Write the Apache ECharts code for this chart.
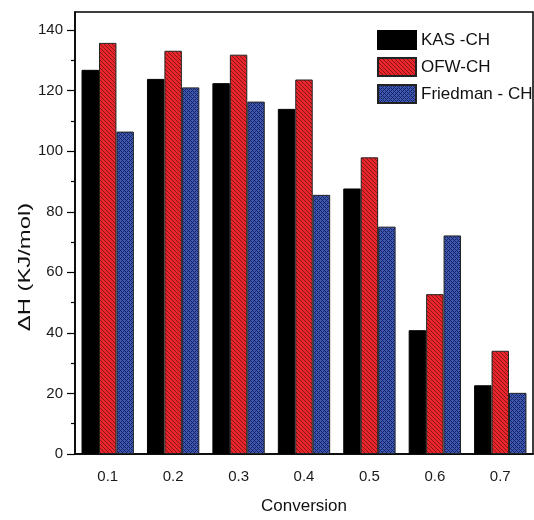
<!DOCTYPE html>
<html>
<head>
<meta charset="utf-8">
<script src="https://cdn.jsdelivr.net/npm/echarts@6/dist/echarts.min.js"></script>
<style>
html,body{margin:0;padding:0;background:#fff;}
#main{width:534px;height:520px;}
</style>
</head>
<body>
<div id="main"></div>
<script>
var categories = ['0.1', '0.2', '0.3', '0.4', '0.5', '0.6', '0.7'];
var seriesNames = ['KAS -CH', 'OFW-CH', 'Friedman - CH'];
var kasValues = [126.9, 123.9, 122.5, 114.0, 87.7, 40.9, 22.7];
var ofwValues = [135.8, 133.2, 131.9, 123.7, 98.0, 52.8, 34.1];
var friedmanValues = [106.5, 121.1, 116.4, 85.6, 75.1, 72.2, 20.2];
var yMajorTicks = [0, 20, 40, 60, 80, 100, 120, 140];
var yMinorTicks = [10, 30, 50, 70, 90, 110, 130];

function makeTile(base, dark, isDark) {
  var c = document.createElement('canvas');
  c.width = 4; c.height = 4;
  var ctx = c.getContext('2d');
  ctx.fillStyle = base; ctx.fillRect(0, 0, 4, 4);
  ctx.fillStyle = dark;
  for (var y = 0; y < 4; y++) for (var x = 0; x < 4; x++) if (isDark(x, y)) ctx.fillRect(x, y, 1, 1);
  return {image: c, repeat: 'repeat'};
}
var redPattern = makeTile('#e8262b', '#8a1418', function (x, y) { return ((x - y + 8) % 4) === 0; });
var bluePattern = makeTile('#3c57b4', '#1a255f', function (x, y) { return ((x + y) % 2 === 0) && !(x === 2 && y === 2) && !(x === 0 && y === 0); });

var chart = echarts.init(document.getElementById('main'), null, {renderer: 'canvas'});
var FONT = '"Liberation Sans", Arial, sans-serif';
var option = {
  backgroundColor: '#fff',
  animation: false,
  grid: {left: 75, right: 1, top: 12, bottom: 66, show: true, borderColor: '#000', borderWidth: 1.5, containLabel: false},
  legend: {
    orient: 'vertical', left: 372, top: 25,
    itemWidth: 38, itemHeight: 18, itemGap: 7,
    icon: 'rect',
    textStyle: {fontSize: 17, color: '#111', fontFamily: FONT},
    data: seriesNames
  },
  xAxis: [{
    type: 'category', data: categories, position: 'bottom',
    boundaryGap: true,
    axisLine: {lineStyle: {color: '#000', width: 1.5}},
    axisTick: {alignWithLabel: true, length: 8, lineStyle: {color: '#000', width: 1.2}},
    axisLabel: {fontSize: 15, color: '#1a1a1a', margin: 15, fontFamily: FONT},
    name: 'Conversion', nameLocation: 'middle', nameGap: 44,
    nameTextStyle: {fontSize: 17, color: '#111', fontFamily: FONT}
  }, {
    type: 'category', data: categories, position: 'bottom',
    boundaryGap: true,
    axisLine: {show: false},
    axisTick: {alignWithLabel: false, length: 4, lineStyle: {color: '#000', width: 1.2}},
    axisLabel: {show: false}
  }],
  yAxis: [{
    type: 'value', min: 0, max: 146, position: 'left',
    splitLine: {show: false},
    axisLine: {show: true, lineStyle: {color: '#000', width: 1.5}},
    axisTick: {show: true, length: 8, customValues: yMajorTicks, lineStyle: {color: '#000', width: 1.2}},
    axisLabel: {fontSize: 15, color: '#1a1a1a', margin: 12, customValues: yMajorTicks, fontFamily: FONT}
  }, {
    type: 'value', min: 0, max: 146, position: 'left',
    splitLine: {show: false},
    axisLine: {show: false},
    axisTick: {show: true, length: 4, customValues: yMinorTicks, lineStyle: {color: '#000', width: 1.2}},
    axisLabel: {show: false}
  }],
  graphic: [{
    type: 'text', x: 25, y: 267, rotation: Math.PI / 2, scaleX: 1.4, scaleY: 1.0,
    style: {text: 'ΔH (KJ/mol)', fontSize: 17, fill: '#111', fontFamily: FONT, align: 'center', verticalAlign: 'middle'}
  }],
  series: [{
    name: seriesNames[0], type: 'bar', data: kasValues,
    xAxisIndex: 0, yAxisIndex: 0,
    barGap: '0%', barCategoryGap: '20%',
    itemStyle: {color: '#000', borderColor: '#000', borderWidth: 1}
  }, {
    name: seriesNames[1], type: 'bar', data: ofwValues,
    xAxisIndex: 0, yAxisIndex: 0,
    barGap: '0%', barCategoryGap: '20%',
    itemStyle: {color: redPattern, borderColor: '#222', borderWidth: 1}
  }, {
    name: seriesNames[2], type: 'bar', data: friedmanValues,
    xAxisIndex: 0, yAxisIndex: 0,
    barGap: '0%', barCategoryGap: '20%',
    itemStyle: {color: bluePattern, borderColor: '#222', borderWidth: 1}
  }]
};
chart.setOption(option);
</script>
</body>
</html>
